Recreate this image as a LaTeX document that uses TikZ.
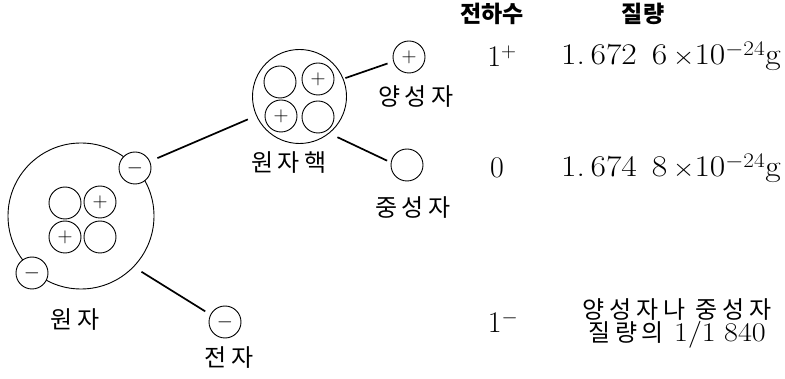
\documentclass[tikz,border=0pt]{standalone}
\usepackage{fontspec}
\newfontfamily\kr[LetterSpace=20]{Noto Sans CJK KR}
\newfontfamily\krhead{Noto Sans CJK KR}
\usetikzlibrary{positioning}
\newcommand\widenum[1]{\scalebox{1.12}[1]{#1}}
\tikzset{ptc/.style={draw,circle,minimum size=32pt,inner sep=0pt,line width=0.9pt,font=\fontsize{22}{22}\selectfont},
  shell/.style={draw,circle,inner sep=0pt,line width=0.9pt},
  link/.style={line width=1.7pt},
  lbl/.style={font=\kr\fontsize{24}{23}\selectfont,align=center,inner sep=0pt},
  num/.style={font=\fontsize{30}{30}\selectfont,inner sep=0pt},
  head/.style={font=\krhead\bfseries\fontsize{23}{23}\selectfont,inner sep=0pt}}

\begin{document}
\begin{tikzpicture}[x=1pt,y=-1pt]
\useasboundingbox (0,0) rectangle (785,379);
% atom
\node[shell,minimum size=146pt] (atom) at (81,216) {};
\node[ptc] (a1) at (65,203) {};
\node[ptc] (a2) at (100,202) {$+$};
\node[ptc] (a3) at (65,237) {$+$};
\node[ptc] (a4) at (100,237) {};
\node[ptc,fill=white] (eA) at (135,168) {$-$};
\node[ptc,fill=white] (eB) at (32,273) {$-$};
\node[lbl] (atomlbl) at (75,320) {원자};
% nucleus
\node[shell,minimum size=94pt] (nuc) at (299.5,96.5) {};
\node[ptc] (n1) at (280,82) {};
\node[ptc] (n2) at (318,79) {$+$};
\node[ptc] (n3) at (281,116) {$+$};
\node[ptc] (n4) at (318,117) {};
\node[lbl] (nuclbl) at (289,163) {원자핵};
% free particles
\node[ptc] (pro) at (409,57) {$+$};
\node[lbl] (prolbl) at (416,97) {양성자};
\node[ptc] (neu) at (407,165) {};
\node[lbl] (neulbl) at (413,208) {중성자};
\node[ptc] (ele) at (225,322) {$-$};
\node[lbl] (elelbl) at (229,358) {전자};
% connectors
\draw[link,shorten <=8pt,shorten >=9pt] (eA.24) -- (nuc.204);
\draw[link,shorten <=9pt,shorten >=6pt] (atom.-44) -- (ele.153);
\draw[link,shorten <=2pt,shorten >=6pt] (nuc.22) -- (pro.196);
\draw[link,shorten <=9pt,shorten >=4pt] (nuc.-51) -- (neu.171);
% table
\node[head] (hq) at (492,14) {전하수};
\node[head] (hm) at (643,14) {질량};
\node[num] (q1) at (502,56) {1$^{+}$};
\node[num] (m1) at (671,56) {\widenum{1.\,672\;\,6\,$\times$10$^{-24}$g}};
\node[num] (q2) at (497,168) {0};
\node[num] (m2) at (671,168) {\widenum{1.\,674\;\,8\,$\times$10$^{-24}$g}};
\node[num] (q3) at (503,322) {1$^{-}$};
\node[lbl] (m3) at (677,323) {양성자나 중성자\\{\kr 질량의} {\rmfamily\fontsize{27}{23}\selectfont\widenum{1/1\;840}}};
\end{tikzpicture}
\end{document}
